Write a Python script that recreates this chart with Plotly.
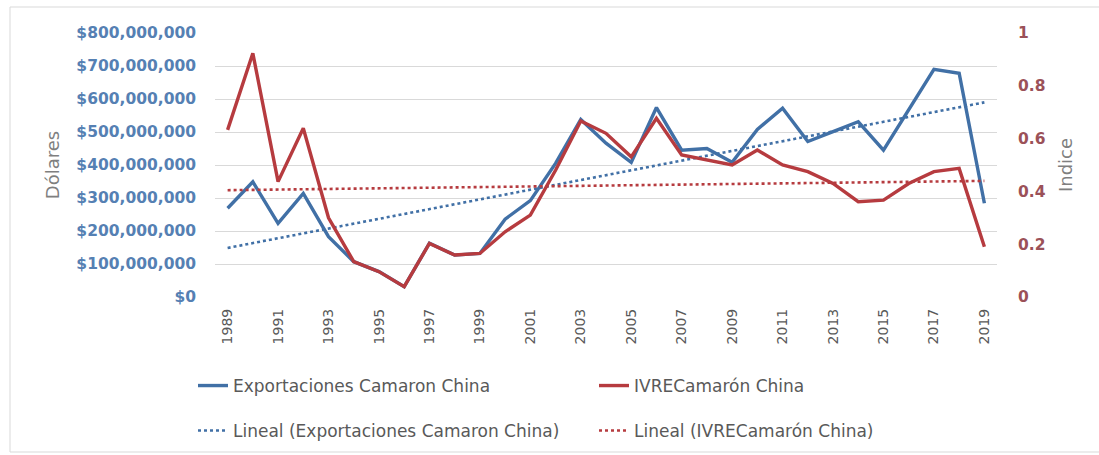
import numpy as np
import plotly.graph_objects as go

# Years on the category axis
years = list(range(1989, 2020))

# Shrimp exports to China, US dollars
exportaciones = [
    269e6, 349e6, 223e6, 314e6, 183e6, 107e6, 77e6, 31e6, 163e6, 127e6,
    132e6, 236e6, 292e6, 405e6, 538e6, 466e6, 408e6, 574e6, 445e6, 450e6,
    408e6, 508e6, 572e6, 471e6, 501e6, 531e6, 445e6, 568e6, 690e6, 678e6,
    284e6,
]

# IVRE index for shrimp exports to China
ivre = [
    0.633, 0.923, 0.437, 0.639, 0.300, 0.134, 0.096, 0.039, 0.203, 0.159,
    0.165, 0.247, 0.310, 0.480, 0.667, 0.620, 0.531, 0.677, 0.538, 0.519,
    0.500, 0.557, 0.500, 0.475, 0.430, 0.361, 0.367, 0.430, 0.475, 0.487,
    0.190,
]

left_ticks = [0, 100e6, 200e6, 300e6, 400e6, 500e6, 600e6, 700e6, 800e6]
left_labels = ["$0", "$100,000,000", "$200,000,000", "$300,000,000",
               "$400,000,000", "$500,000,000", "$600,000,000",
               "$700,000,000", "$800,000,000"]
right_ticks = [0, 0.2, 0.4, 0.6, 0.8, 1]
right_labels = ["0", "0.2", "0.4", "0.6", "0.8", "1"]
x_ticks = list(range(1989, 2020, 2))

BLUE = "#4170A6"
RED = "#B63B3F"
FONT = "DejaVu Sans"

# Least-squares linear trends, as in the spreadsheet's "Lineal" trendlines
xa = np.array(years, dtype=float)
b1, a1 = np.polyfit(xa, np.array(exportaciones), 1)
b2, a2 = np.polyfit(xa, np.array(ivre), 1)
trend_exp = a1 + b1 * xa
trend_ivre = a2 + b2 * xa

series = [
    go.Scatter(
        x=years, y=trend_exp, mode="lines",
        name="Lineal (Exportaciones Camaron China)",
        line=dict(color=BLUE, width=2.6, dash="dot"),
        legend="legend2", yaxis="y",
    ),
    go.Scatter(
        x=years, y=trend_ivre, mode="lines",
        name="Lineal (IVRECamarón China)",
        line=dict(color=RED, width=2.6, dash="dot"),
        legend="legend2", yaxis="y2",
    ),
    go.Scatter(
        x=years, y=exportaciones, mode="lines",
        name="Exportaciones Camaron China",
        line=dict(color=BLUE, width=3.4), legend="legend", yaxis="y",
    ),
    go.Scatter(
        x=years, y=ivre, mode="lines", name="IVRECamarón China",
        line=dict(color=RED, width=3.4), legend="legend", yaxis="y2",
    ),
]
fig = go.Figure(data=series)

L, R, T, B = 215, 102, 33, 158
W, H = 1099, 455
pw, ph = W - L - R, H - T - B

def px_x(p):
    return (p - L) / pw

def px_y(p):
    return (H - B - p) / ph

# Two one-row legends; the second entry of each row lines up in a column
legend_common = dict(
    orientation="h", xanchor="left", yanchor="middle",
    font=dict(family=FONT, size=17, color="#595959"),
    bgcolor="rgba(0,0,0,0)", entrywidthmode="pixels", entrywidth=356,
    traceorder="normal",
)

fig.update_layout(
    width=W, height=H,
    margin=dict(l=L, r=R, t=T, b=B, autoexpand=False),
    paper_bgcolor="white", plot_bgcolor="white",
    font=dict(family=FONT, color="#595959"),
    showlegend=True,
    legend=dict(legend_common, x=px_x(193), y=px_y(386)),
    legend2=dict(legend_common, x=px_x(193), y=px_y(431)),
    xaxis=dict(
        range=[1988.5, 2019.5], tickvals=x_ticks,
        ticktext=[str(v) for v in x_ticks], tickangle=-90,
        tickfont=dict(family=FONT, size=14, color="#595959"),
        showgrid=False, zeroline=False, showline=False, ticks="",
        ticklabelstandoff=8, automargin=False,
    ),
    yaxis=dict(
        range=[0, 800e6], tickvals=left_ticks, ticktext=left_labels,
        tickfont=dict(family=FONT, size=15.5, color="#5580B3",
                      weight="bold"),
        showgrid=True, gridcolor="#D9D9D9", gridwidth=1,
        zeroline=False, showline=False, ticks="",
        ticklabelstandoff=18, automargin=False,
        title=dict(text="Dólares", standoff=12,
                   font=dict(family=FONT, size=18, color="#7F7F7F")),
    ),
    yaxis2=dict(
        range=[0, 1], tickvals=right_ticks, ticktext=right_labels,
        overlaying="y", side="right",
        tickfont=dict(family=FONT, size=15.5, color="#9B5158",
                      weight="bold"),
        showgrid=False, zeroline=False, showline=False, ticks="",
        ticklabelstandoff=20, automargin=False,
        title=dict(text="Indice", standoff=14,
                   font=dict(family=FONT, size=18, color="#7F7F7F")),
    ),
    shapes=[dict(
        type="rect", xref="paper", yref="paper",
        x0=px_x(10), x1=px_x(1110), y0=px_y(452), y1=px_y(7),
        line=dict(color="#D9D9D9", width=1), fillcolor="rgba(0,0,0,0)",
        layer="below",
    )],
)

fig.write_html("out.html")
